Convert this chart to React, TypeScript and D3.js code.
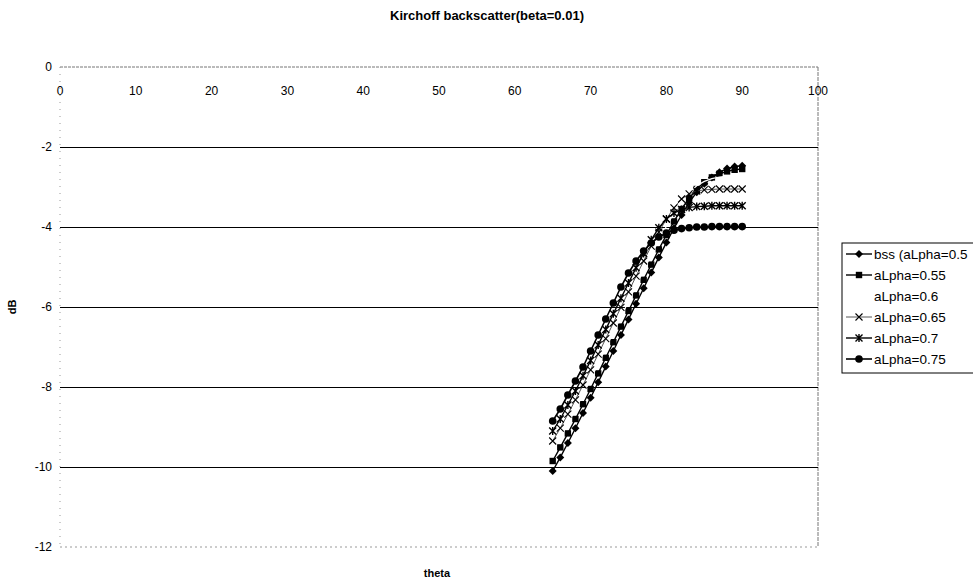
import React from "react";
import * as d3 from "d3";

const thetas = [65, 66, 67, 68, 69, 70, 71, 72, 73, 74, 75, 76, 77, 78, 79, 80, 81, 82, 83, 84, 85, 86, 87, 88, 89, 90];

const bss050 = [-10.1, -9.76, -9.4, -9.03, -8.65, -8.27, -7.88, -7.49, -7.1, -6.7, -6.31, -5.92, -5.53, -5.14, -4.76, -4.39, -4.03, -3.7, -3.39, -3.13, -2.92, -2.76, -2.63, -2.54, -2.49, -2.47];
const alpha055 = [-9.85, -9.51, -9.16, -8.8, -8.43, -8.05, -7.66, -7.27, -6.88, -6.49, -6.1, -5.71, -5.32, -4.94, -4.56, -4.2, -3.86, -3.55, -3.28, -3.05, -2.88, -2.76, -2.67, -2.61, -2.57, -2.55];
const alpha060 = [-9.6, -9.27, -8.92, -8.56, -8.19, -7.81, -7.42, -7.03, -6.64, -6.25, -5.86, -5.47, -5.08, -4.7, -4.33, -3.98, -3.65, -3.37, -3.14, -2.97, -2.86, -2.79, -2.75, -2.73, -2.72, -2.72];
const alpha065 = [-9.35, -9.03, -8.68, -8.32, -7.95, -7.57, -7.18, -6.79, -6.4, -6.01, -5.62, -5.23, -4.85, -4.48, -4.13, -3.8, -3.52, -3.3, -3.17, -3.1, -3.07, -3.06, -3.05, -3.05, -3.05, -3.05];
const alpha070 = [-9.1, -8.8, -8.45, -8.1, -7.72, -7.34, -6.95, -6.56, -6.17, -5.78, -5.4, -5.02, -4.66, -4.32, -4.02, -3.8, -3.65, -3.56, -3.51, -3.49, -3.48, -3.47, -3.47, -3.47, -3.47, -3.47];
const alpha075 = [-8.85, -8.55, -8.2, -7.85, -7.5, -7.1, -6.7, -6.3, -5.9, -5.5, -5.15, -4.85, -4.6, -4.4, -4.25, -4.15, -4.08, -4.04, -4.02, -4.0, -4.0, -3.99, -3.99, -3.99, -3.99, -3.99];

const seriesNames = ["bss (aLpha=0.5", "aLpha=0.55", "aLpha=0.6", "aLpha=0.65", "aLpha=0.7", "aLpha=0.75"];
const seriesValues = [bss050, alpha055, alpha060, alpha065, alpha070, alpha075];
const seriesMarkers = ["diamond", "square", "none", "x", "asterisk", "circle"];

const xTicks = [0, 10, 20, 30, 40, 50, 60, 70, 80, 90, 100];
const yTicks = [0, -2, -4, -6, -8, -10, -12];
const gridValues = [-2, -4, -6, -8, -10];

const W = 973;
const H = 581;
const left = 60;
const right = 818;
const top = 67;
const bottom = 547;

function Marker({ kind, x, y }: { kind: string; x: number; y: number }) {
  if (kind === "diamond") {
    const s = 4;
    return <path d={`M${x},${y - s}L${x + s},${y}L${x},${y + s}L${x - s},${y}Z`} fill="#000" />;
  }
  if (kind === "square") {
    const s = 3.2;
    return <rect x={x - s} y={y - s} width={2 * s} height={2 * s} fill="#000" />;
  }
  if (kind === "x") {
    const s = 3.5;
    return (
      <path d={`M${x - s},${y - s}L${x + s},${y + s}M${x - s},${y + s}L${x + s},${y - s}`} stroke="#000" strokeWidth={1.1} fill="none" />
    );
  }
  if (kind === "asterisk") {
    const s = 3.5;
    return (
      <path
        d={`M${x - s},${y - s}L${x + s},${y + s}M${x - s},${y + s}L${x + s},${y - s}M${x},${y - s - 0.5}L${x},${y + s + 0.5}`}
        stroke="#000"
        strokeWidth={1.4}
        fill="none"
      />
    );
  }
  if (kind === "circle") {
    return <circle cx={x} cy={y} r={3.8} fill="#000" />;
  }
  return null;
}

export default function App() {
  const x = d3.scaleLinear().domain([0, 100]).range([left, right]);
  const y = d3.scaleLinear().domain([0, -12]).range([top, bottom]);

  const line = d3
    .line<number>()
    .x((_, i) => x(thetas[i]))
    .y((v) => y(v));

  const lineStyles = [
    { stroke: "#000", width: 1.4 },
    { stroke: "#000", width: 1.4 },
    { stroke: "#fff", width: 1.2 },
    { stroke: "#444", width: 0.9 },
    { stroke: "#000", width: 1.4 },
    { stroke: "#000", width: 1.6 },
  ];

  const legendX = 842;
  const legendTop = 243;
  const legendRows = [254, 275, 296, 317, 338, 359];

  return (
    <svg
      width={W}
      height={H}
      style={{ position: "absolute", left: 0, top: 0, background: "#fff" }}
      fontFamily="'Liberation Sans', Arial, sans-serif"
    >
      <rect x={0} y={0} width={W} height={H} fill="#fff" />
      <text x={487} y={20} textAnchor="middle" fontSize={13} fontWeight="bold">
        Kirchoff backscatter(beta=0.01)
      </text>

      {/* plot border (faint, dotted as in the scan) */}
      <line x1={left} x2={right} y1={top} y2={top} stroke="#777" strokeWidth={1} strokeDasharray="3,1" />
      <line x1={left} x2={right} y1={bottom} y2={bottom} stroke="#999" strokeWidth={1} strokeDasharray="2,3" />
      <line x1={left} x2={left} y1={top} y2={bottom} stroke="#999" strokeWidth={1} strokeDasharray="1,6" />
      <line x1={right} x2={right} y1={top} y2={bottom} stroke="#777" strokeWidth={1} strokeDasharray="4,1" />

      {gridValues.map((g) => (
        <line key={g} x1={left} x2={right} y1={Math.round(y(g)) + 0.5} y2={Math.round(y(g)) + 0.5} stroke="#000" strokeWidth={1} />
      ))}

      {/* x tick labels under the top axis */}
      {xTicks.map((t) => (
        <text key={t} x={x(t)} y={95} textAnchor="middle" fontSize={12}>
          {t}
        </text>
      ))}
      {/* y tick labels */}
      {yTicks.map((t) => (
        <text key={t} x={52} y={y(t) + 4} textAnchor="end" fontSize={12}>
          {t}
        </text>
      ))}

      <text x={0} y={0} transform={`translate(16,${(top + bottom) / 2}) rotate(-90)`} textAnchor="middle" fontSize={11} fontWeight="bold">
        dB
      </text>
      <text x={(left + right) / 2 - 2} y={577} textAnchor="middle" fontSize={11} fontWeight="bold">
        theta
      </text>

      {/* series */}
      {seriesValues.map((vals, si) => (
        <g key={si}>
          <path d={line(vals) || ""} fill="none" stroke={lineStyles[si].stroke} strokeWidth={lineStyles[si].width} />
          {vals.map((v, i) => (
            <Marker key={i} kind={seriesMarkers[si]} x={x(thetas[i])} y={y(v)} />
          ))}
        </g>
      ))}

      {/* legend */}
      <rect x={legendX} y={legendTop} width={140} height={130} fill="#fff" stroke="#000" strokeWidth={1} />
      {seriesNames.map((name, i) => (
        <g key={name}>
          {seriesMarkers[i] !== "none" && (
            <>
              <line
                x1={legendX + 4}
                x2={legendX + 30}
                y1={legendRows[i]}
                y2={legendRows[i]}
                stroke={lineStyles[i].stroke}
                strokeWidth={lineStyles[i].width}
              />
              <Marker kind={seriesMarkers[i]} x={legendX + 17} y={legendRows[i]} />
            </>
          )}
          <text x={legendX + 32} y={legendRows[i] + 5} fontSize={13.5}>
            {name}
          </text>
        </g>
      ))}
    </svg>
  );
}
